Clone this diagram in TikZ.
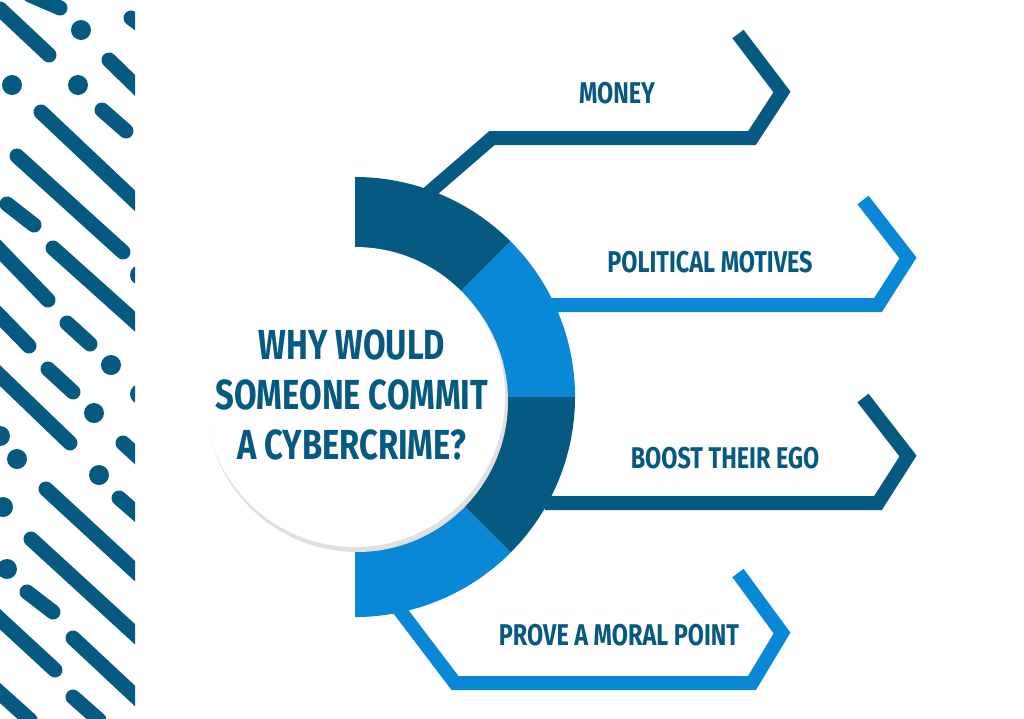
\documentclass[tikz,border=0pt]{standalone}
\usepackage{fontspec}
\setmainfont{Fira Sans}[FakeStretch=0.78]
\definecolor{dk}{HTML}{065A82}
\definecolor{lt}{HTML}{0A88D8}
\begin{document}
\begin{tikzpicture}[x=1pt,y=-1pt,
  patline/.style={line width=15,line cap=round,dk},
  patdot/.style={fill=dk},
  chev/.style={line width=14,line join=miter,miter limit=10},
  lbl/.style={text=dk,font=\fontsize{30}{30}\selectfont\bfseries,anchor=center}]
\useasboundingbox (0,0) rectangle (1024,718);
\fill[white] (0,0) rectangle (1024,718);
% left pattern
\begin{scope}
\clip (0,0) rectangle (135,718);
\foreach \a/\b/\c/\d in {30/-5/60/8, 0/9/49/55, 131/18/150/32, 109/60/150/100, 102/110/126/131,
 41/112/150/215, 17/156/123/252, 7/204/34/225, 53/248/150/335, -10/240/48/300, -10/306/29/346,
 67/323/90/344, 48/369/73/392, -10/366/70/443, 123/443/150/468, 46/489/150/585, 119/498/150/525,
 31/539/150/648, 27/592/53/612, -10/610/55/670, 73/638/150/710, -10/684/30/720, 73/697/99/720}
  \draw[patline] (\a,\b) -- (\c,\d);
\foreach \p in {(81,30),(12,85),(78,85),(140,275),(111,365),(94,413),(140,394),(0,436),(17,459),(99,475),(3,507),(7,569)}
  \fill[patdot] \p circle (10);
\end{scope}
% chevrons
\coordinate (c) at (355,397);
\draw[chev,dk] (425,196) -- (492,138) -- (752,138) -- (782,92) -- (738,34);
\draw[chev,lt] (545,305) -- (878,305) -- (908,258) -- (863,200);
\draw[chev,dk] (545,503) -- (878,503) -- (908,456) -- (863,398);
\draw[chev,lt] (392,600) -- (455,683) -- (752,683) -- (782,633) -- (738,573);
% ring (y axis points down, so angles are mirrored)
\fill[dk] (c) -- (355,177) arc[start angle=-90,end angle=-45,radius=220] -- cycle;
\fill[lt] (c) -- (355+155.6,397-155.6) arc[start angle=-45,end angle=0,radius=220] -- cycle;
\fill[dk] (c) -- (575,397) arc[start angle=0,end angle=45,radius=220] -- cycle;
\fill[lt] (c) -- (355+155.6,397+155.6) arc[start angle=45,end angle=90,radius=220] -- cycle;
\fill[black!12] (357,401) circle (151);
\node[circle,fill=white,minimum size=300,inner sep=0] (hub) at (c) {};
\node[lbl,font=\fontsize{42}{50}\selectfont\bfseries,align=center] (q) at (352,395) {WHY WOULD\\SOMEONE COMMIT\\A CYBERCRIME?};
\node[lbl] (m) at (617,93) {MONEY};
\node[lbl] (p) at (710,262) {POLITICAL MOTIVES};
\node[lbl] (b) at (725,458) {BOOST THEIR EGO};
\node[lbl] (r) at (619,635) {PROVE A MORAL POINT};
\end{tikzpicture}
\end{document}
